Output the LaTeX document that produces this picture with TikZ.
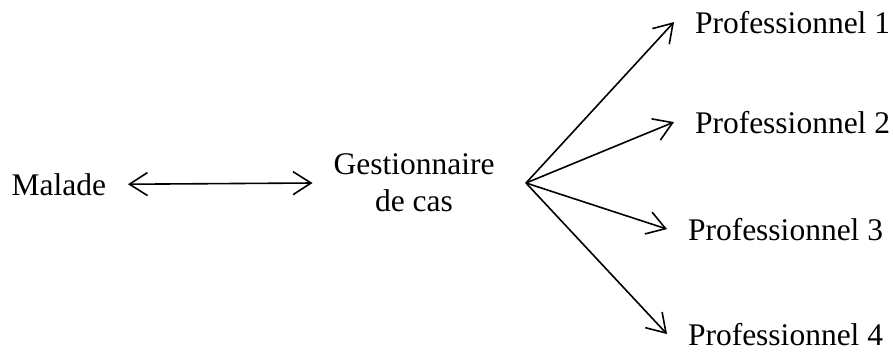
\documentclass[tikz,border=0pt]{standalone}
\usepackage{fontspec}
\setmainfont{Liberation Serif}
\usetikzlibrary{arrows.meta}
\begin{document}
\begin{tikzpicture}[x=1pt,y=-1pt,
  lbl/.style={font=\fontsize{31.5}{37}\selectfont, inner ysep=0pt, inner xsep=21pt, outer sep=0pt},
  conn/.style={line width=1.6pt, -{Straight Barb[length=18pt,width=23pt,line width=1.6pt]}},
  biconn/.style={line width=1.6pt, {Straight Barb[length=18pt,width=23pt,line width=1.6pt]}-{Straight Barb[length=18pt,width=23pt,line width=1.6pt]}}]
\useasboundingbox (0,0) rectangle (893,351);
\node[lbl, anchor=base east, inner xsep=22pt] (malade) at (128,195) {Malade};
\node[lbl, align=center, anchor=center] (gest) at (414,183) {Gestionnaire\\de cas};
\coordinate (hub) at (526,183);
\node[lbl, anchor=base west] (p1) at (674,33) {Professionnel 1};
\node[lbl, anchor=base west] (p2) at (674,133) {Professionnel 2};
\node[lbl, anchor=base west] (p3) at (667,240) {Professionnel 3};
\node[lbl, anchor=base west] (p4) at (667,345) {Professionnel 4};
\draw[biconn] (malade.east) -- (gest.west);
\draw[conn] (hub) -- (p1.west);
\draw[conn] (hub) -- (p2.west);
\draw[conn] (hub) -- (p3.west);
\draw[conn] (hub) -- (p4.west);
\end{tikzpicture}
\end{document}
